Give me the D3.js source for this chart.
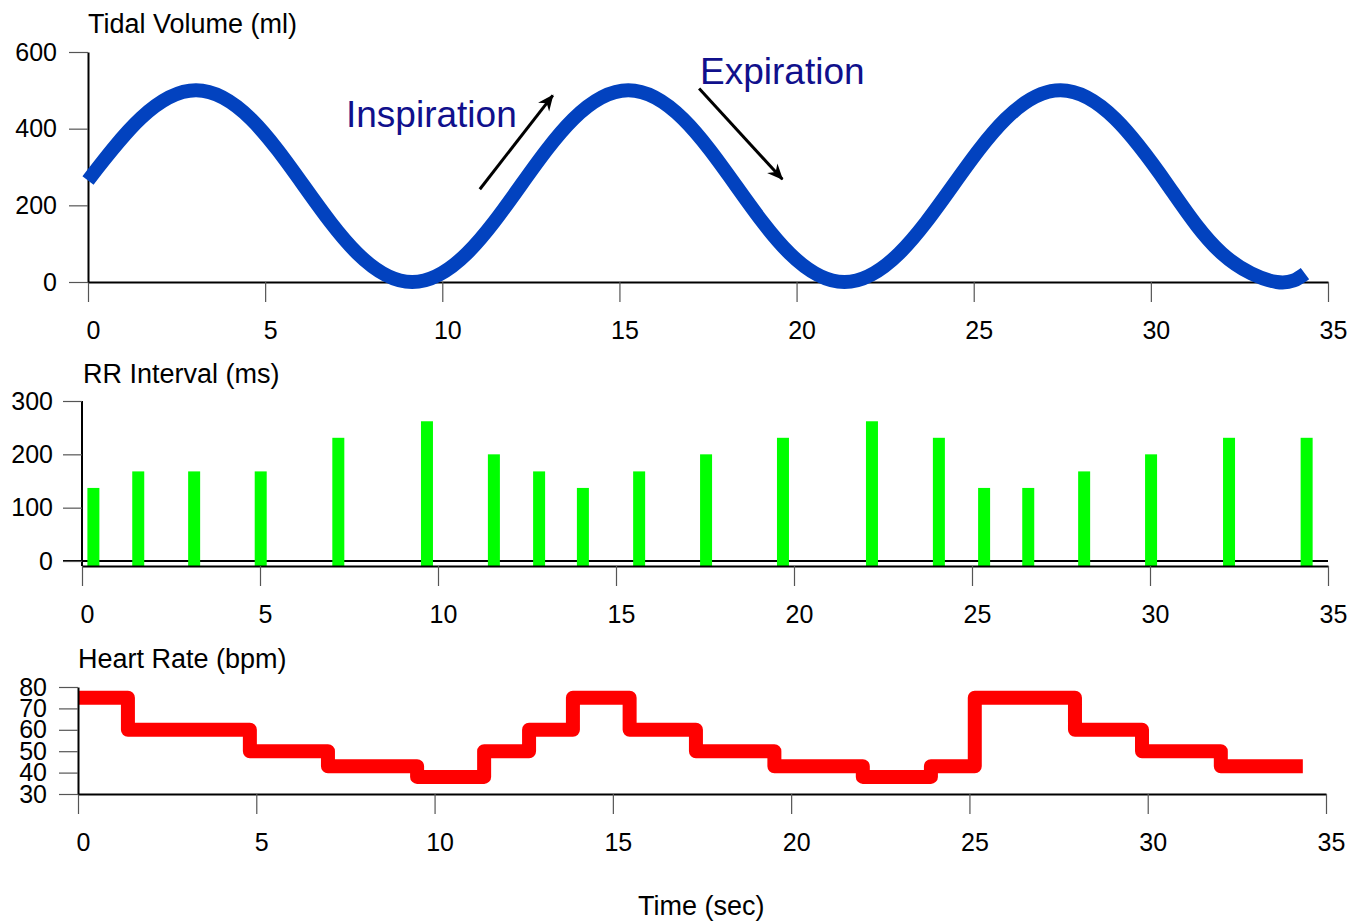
<!DOCTYPE html>
<html>
<head>
<meta charset="utf-8">
<script src="https://cdn.jsdelivr.net/npm/d3@7"></script>
<style>
  body { margin: 0; background: #fff; }
  text { font-family: "Liberation Sans", Arial, Helvetica, sans-serif; fill: #000; }
  .tick line { stroke: #555; stroke-width: 1.2; }
  .domain { stroke: #000; stroke-width: 2; }
</style>
</head>
<body>
<svg id="chart" width="1354" height="921"></svg>
<script>
// time ticks shared by the three panels
const timeTicks = [0, 5, 10, 15, 20, 25, 30, 35];

// tidal volume (ml)
const tvTime   = [0, 1.5, 3.05, 4.6, 6.1, 7.6, 9.15, 10.7, 12.2, 13.7, 15.25, 16.8, 18.3, 19.8, 21.35, 22.9, 24.4, 25.9, 27.45, 29.0, 30.5, 32.0, 33.55, 34.35];
const tvVolume = [265, 428, 500, 425, 250, 75, 0, 75, 250, 425, 500, 425, 250, 75, 0, 75, 250, 425, 500, 425, 250, 75, 0, 22];
const tvTicks  = [0, 200, 400, 600];

// RR interval bars (ms)
const rrTime  = [0.32, 1.58, 3.15, 5.02, 7.2, 9.69, 11.57, 12.84, 14.07, 15.65, 17.53, 19.69, 22.19, 24.07, 25.34, 26.58, 28.15, 30.03, 32.22, 34.4];
const rrValue = [137, 168, 168, 168, 231, 262, 200, 168, 137, 168, 200, 231, 262, 231, 137, 137, 168, 200, 231, 231];
const rrTicks = [0, 100, 200, 300];

// heart rate steps (bpm)
const hrTime = [0, 1.40, 4.82, 7.01, 9.51, 11.39, 12.65, 13.88, 15.47, 17.33, 19.53, 22.01, 23.92, 25.15, 27.96, 29.84, 32.05, 34.35];
const hrRate = [75, 60, 50, 43, 38, 50, 60, 75, 60, 50, 43, 38, 43, 75, 60, 50, 43, 43];
const hrTicks = [30, 40, 50, 60, 70, 80];

const svg = d3.select('#chart');

svg.append('defs').append('marker')
  .attr('id', 'head')
  .attr('markerUnits', 'userSpaceOnUse')
  .attr('viewBox', '-17 -8 19 16')
  .attr('markerWidth', 19).attr('markerHeight', 16)
  .attr('refX', 0).attr('refY', 0)
  .attr('orient', 'auto')
  .append('path')
  .attr('d', 'M1,0 L-15,-7 L-10,0 L-15,7 Z')
  .attr('fill', '#000');

function xAxis(g, x, yPos) {
  g.append('g')
    .attr('transform', `translate(0,${yPos})`)
    .call(d3.axisBottom(x).tickValues(timeTicks).tickSize(20).tickSizeOuter(0).tickPadding(19))
    .call(a => a.selectAll('text').attr('dx', 5).style('font-size', '25px'));
}

function yAxis(g, y, xPos, ticks, pad) {
  return g.append('g')
    .attr('transform', `translate(${xPos},0)`)
    .call(d3.axisLeft(y).tickValues(ticks).tickSize(19).tickSizeOuter(0).tickPadding(pad))
    .call(a => a.selectAll('text').style('font-size', '25px'));
}

// ---------- panel 1: tidal volume ----------
const x1 = d3.scaleLinear().domain([0, 35]).range([88, 1328]);
const y1 = d3.scaleLinear().domain([0, 600]).range([282, 52]);

xAxis(svg, x1, y1(0));
yAxis(svg, y1, x1(0), tvTicks, 12);

svg.append('text').attr('x', 88).attr('y', 33).style('font-size', '27px').text('Tidal Volume (ml)');

const tvData = tvTime.map((t, i) => [t, tvVolume[i]]);
svg.append('path')
  .datum(tvData)
  .attr('fill', 'none')
  .attr('stroke', '#0242bf')
  .attr('stroke-width', 14)
  .attr('d', d3.line().x(d => x1(d[0])).y(d => y1(d[1])).curve(d3.curveNatural));

svg.append('text').attr('x', 346).attr('y', 127)
  .style('font-size', '37px').style('fill', '#10108c').text('Inspiration');
svg.append('text').attr('x', 700).attr('y', 84)
  .style('font-size', '37px').style('fill', '#10108c').text('Expiration');

svg.append('line')
  .attr('x1', x1(11.06)).attr('y1', y1(242))
  .attr('x2', x1(13.12)).attr('y2', y1(487))
  .attr('stroke', '#000').attr('stroke-width', 3)
  .attr('marker-end', 'url(#head)');
svg.append('line')
  .attr('x1', x1(17.25)).attr('y1', y1(505))
  .attr('x2', x1(19.6)).attr('y2', y1(268))
  .attr('stroke', '#000').attr('stroke-width', 3)
  .attr('marker-end', 'url(#head)');

// ---------- panel 2: RR interval ----------
const x2 = d3.scaleLinear().domain([0, 35]).range([82, 1328]);
const y2 = d3.scaleLinear().domain([0, 300]).range([561, 401]);
const rrBase = 566;

svg.append('line')
  .attr('x1', x2(0) - 19).attr('x2', x2(35))
  .attr('y1', y2(0)).attr('y2', y2(0))
  .attr('stroke', '#000').attr('stroke-width', 2);

svg.selectAll('.bar')
  .data(rrTime.map((t, i) => [t, rrValue[i]]))
  .join('rect')
  .attr('class', 'bar')
  .attr('x', d => x2(d[0]) - 6)
  .attr('width', 12)
  .attr('y', d => y2(d[1]))
  .attr('height', d => rrBase - y2(d[1]))
  .attr('fill', '#00ff00');

xAxis(svg, x2, rrBase);
yAxis(svg, y2, x2(0), rrTicks, 10)
  .select('.domain').attr('d', `M0,${y2(300)}V${rrBase}`);

svg.append('text').attr('x', 83).attr('y', 383).style('font-size', '27px').text('RR Interval (ms)');

// ---------- panel 3: heart rate ----------
const x3 = d3.scaleLinear().domain([0, 35]).range([78, 1326]);
const y3 = d3.scaleLinear().domain([30, 80]).range([794, 687]);

svg.append('path')
  .datum(hrTime.map((t, i) => [t, hrRate[i]]))
  .attr('fill', 'none')
  .attr('stroke', '#ff0000')
  .attr('stroke-width', 14)
  .attr('stroke-linejoin', 'round')
  .attr('d', d3.line().x(d => x3(d[0])).y(d => y3(d[1])).curve(d3.curveStepAfter));

xAxis(svg, x3, y3(30));
yAxis(svg, y3, x3(0), hrTicks, 12);

svg.append('text').attr('x', 78).attr('y', 668).style('font-size', '27px').text('Heart Rate (bpm)');
svg.append('text').attr('x', 638).attr('y', 915).style('font-size', '27px').text('Time (sec)');
</script>
</body>
</html>
